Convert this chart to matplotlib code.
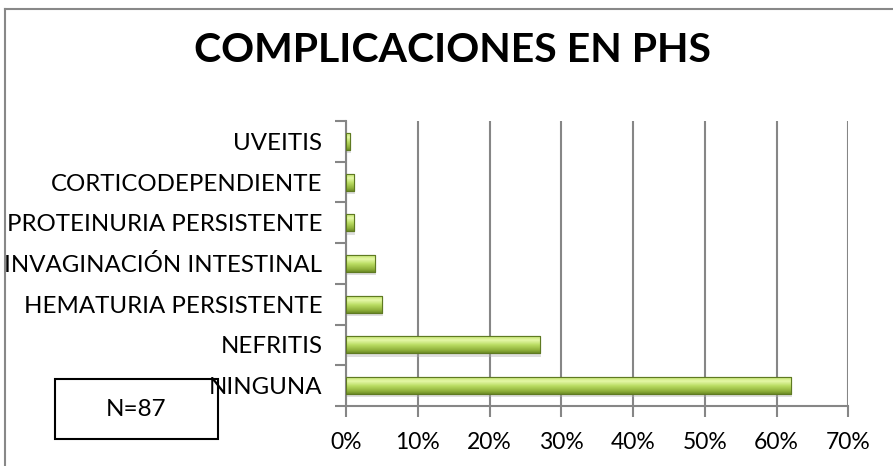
import matplotlib
matplotlib.use("Agg")
import matplotlib.pyplot as plt
import numpy as np
from matplotlib.colors import LinearSegmentedColormap
from matplotlib.lines import Line2D
from matplotlib.patches import Rectangle

categories = ["NINGUNA", "NEFRITIS", "HEMATURIA PERSISTENTE", "INVAGINACIÓN INTESTINAL",
              "PROTEINURIA PERSISTENTE", "CORTICODEPENDIENTE", "UVEITIS"]
values = [62.0, 27.0, 5.0, 4.0, 1.1, 1.1, 0.6]
xticks = [0, 10, 20, 30, 40, 50, 60, 70]
xtick_labels = ["0%", "10%", "20%", "30%", "40%", "50%", "60%", "70%"]
title = "COMPLICACIONES EN PHS"
note = "N=87"

plt.rcParams['font.family'] = ['Lato', 'DejaVu Sans']

W, H = 893, 466
fig = plt.figure(figsize=(W / 100, H / 100), dpi=100)
ax = fig.add_axes([346 / W, 1 - 406 / H, (848.3 - 346) / W, (406 - 121) / H])
ax.patch.set_alpha(0)

y = np.arange(len(categories))
bh = 0.42

# shadow
ax.barh(y - 0.08, values, height=bh, left=0.15, color='#b0b0b0', alpha=0.4, linewidth=0, zorder=2)
bars = ax.barh(y, values, height=bh, color='#9bbb59', edgecolor='#5f7a22', linewidth=0.8, zorder=3)

cmap = LinearSegmentedColormap.from_list('g', [
    (0.0, '#6e8c26'), (0.15, '#8fb03a'), (0.45, '#b9dc62'),
    (0.72, '#e6f8a8'), (0.88, '#cdea80'), (1.0, '#9fc24a')])
grad = np.linspace(0, 1, 64).reshape(-1, 1)
for b in bars:
    x0, y0 = b.get_x(), b.get_y()
    w, h = b.get_width(), b.get_height()
    im = ax.imshow(grad, cmap=cmap, extent=[x0, x0 + w, y0, y0 + h], origin='lower',
                   aspect='auto', zorder=3.5, interpolation='bilinear')
    im.set_clip_path(b)
    ax.add_patch(Rectangle((x0, y0), w, h, fill=False, edgecolor='#5f7a22', lw=0.8, zorder=4))

ax.set_xlim(0, 70)
ax.set_ylim(-0.5, len(categories) - 0.5)
ax.set_xticks(xticks)
ax.set_xticklabels(xtick_labels, fontsize=16.5, color='#000000')
ax.set_yticks(y)
ax.set_yticklabels(categories, fontsize=17.3, color='#000000')
ax.set_yticks(np.arange(-0.5, len(categories)), minor=True)
ax.tick_params(axis='y', which='major', length=0, pad=17)
ax.tick_params(axis='y', which='minor', length=8, width=1.5, color='#868686', direction='out')
ax.tick_params(axis='x', length=8, width=1.5, color='#868686', pad=11)
ax.grid(axis='x', color='#868686', linewidth=1.5, zorder=0)
ax.set_axisbelow(True)
for s in ['top', 'right']:
    ax.spines[s].set_visible(False)
for s in ['left', 'bottom']:
    ax.spines[s].set_color('#868686')
    ax.spines[s].set_linewidth(1.5)

fig.text(452 / W, 1 - 50 / H, title, fontsize=29.5, fontweight='bold', ha='center', va='center')

# N box (drawn beneath the axis labels)
fig.add_artist(Rectangle((55 / W, 1 - 439 / H), (218 - 55) / W, (439 - 379) / H,
                         transform=fig.transFigure, fill=True, facecolor='white',
                         edgecolor='black', lw=1.5, zorder=-1))
fig.text(136 / W, 1 - 410 / H, note, fontsize=17.5, ha='center', va='center', zorder=6)

# outer chart border (top and left visible)
fig.add_artist(Line2D([5 / W, 1], [1 - 9 / H, 1 - 9 / H], transform=fig.transFigure, color='#888888', lw=1.5))
fig.add_artist(Line2D([5 / W, 5 / W], [0, 1 - 9 / H], transform=fig.transFigure, color='#888888', lw=1.5))

fig.savefig("out.png", dpi=100)
